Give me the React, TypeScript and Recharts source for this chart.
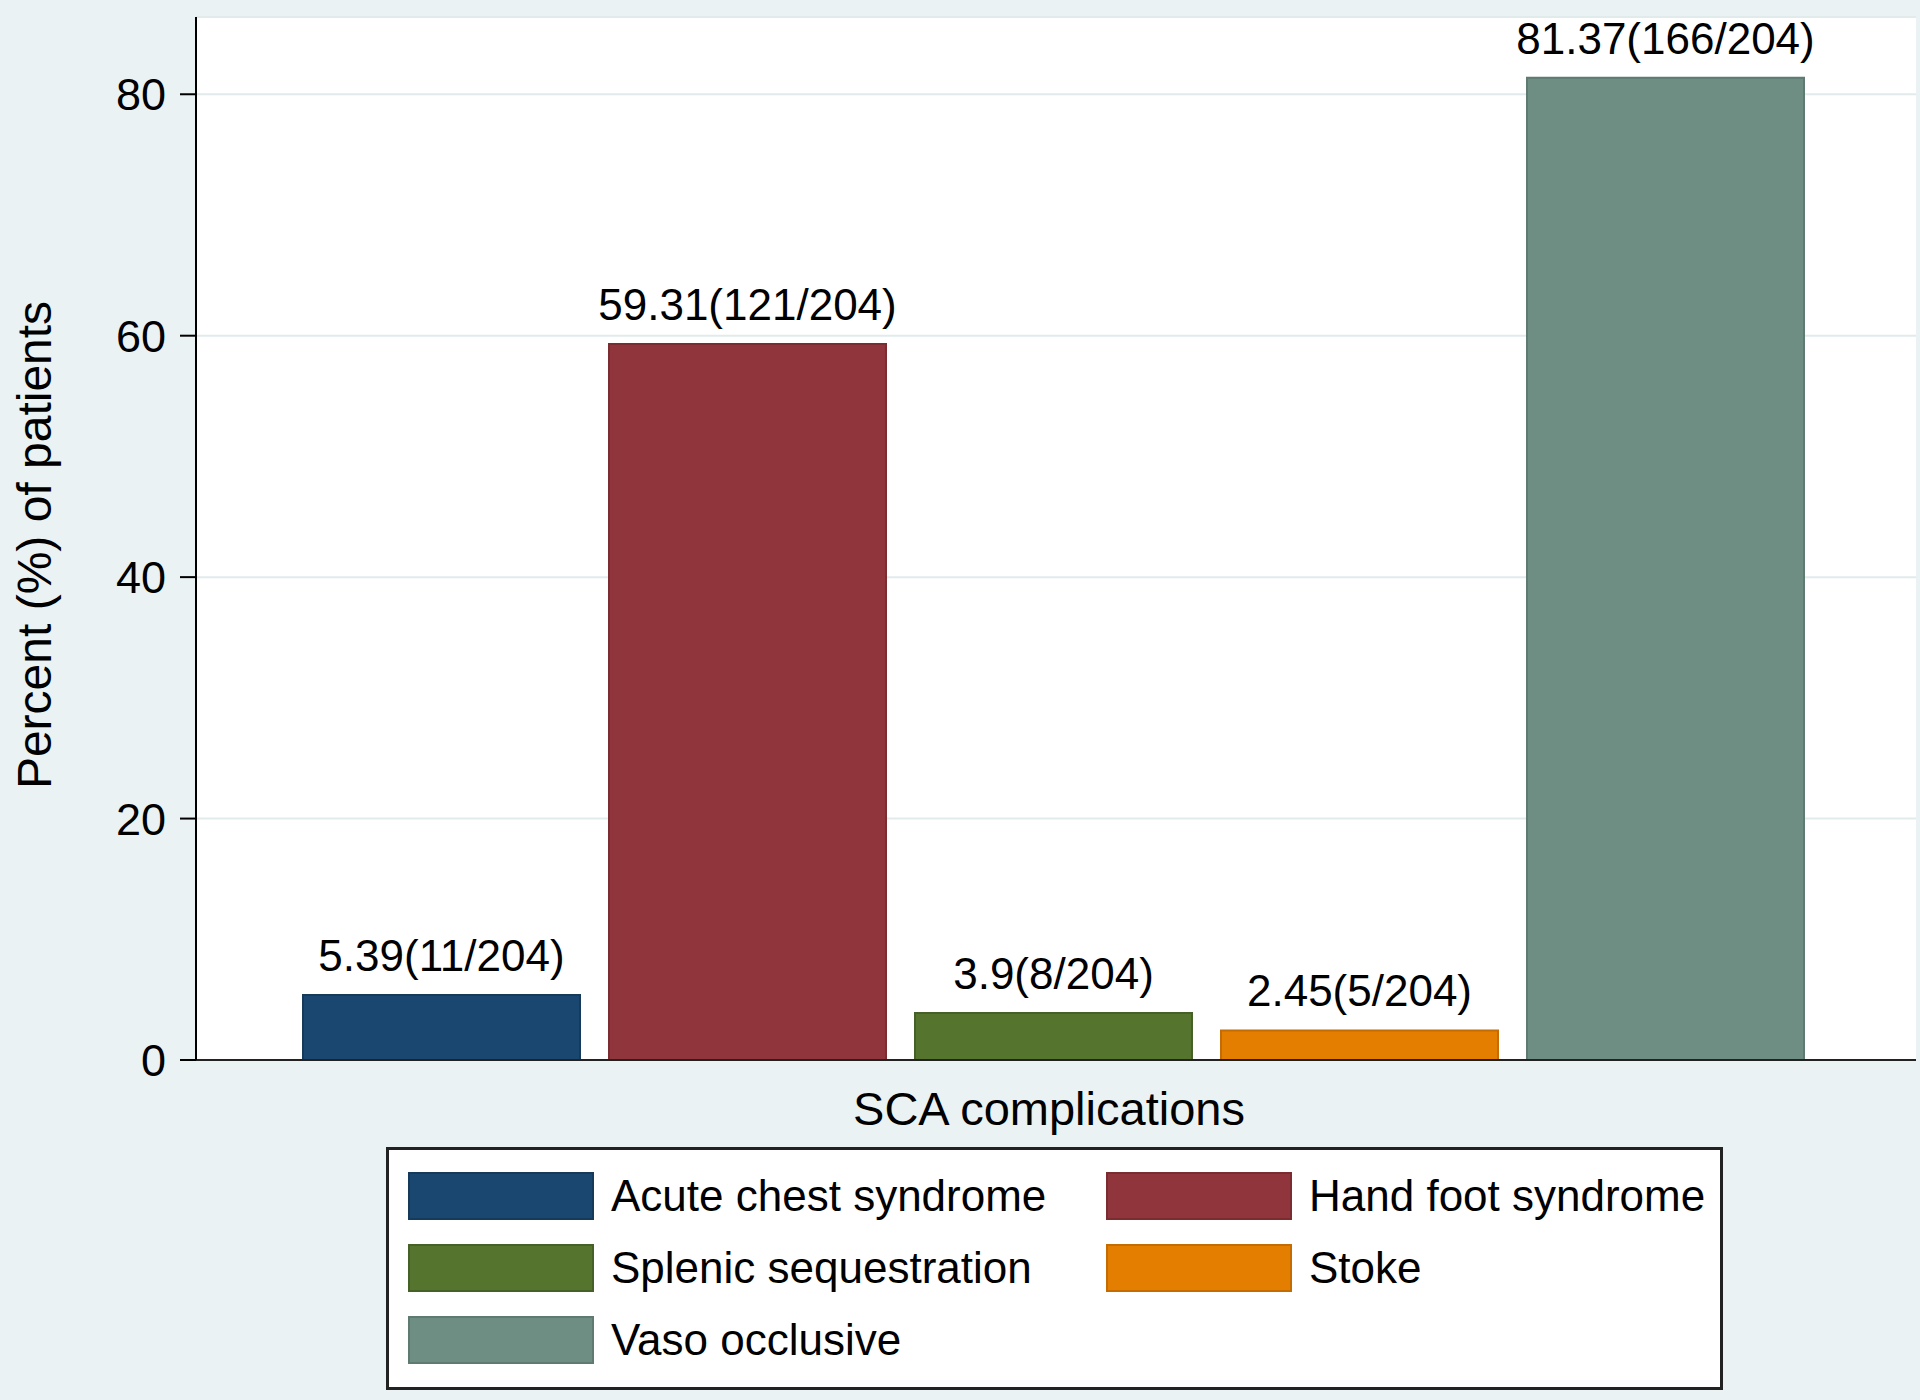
import React from "react";
import {
  BarChart,
  Bar,
  XAxis,
  YAxis,
  CartesianGrid,
  Legend,
  LabelList,
} from "recharts";

const complications = [
  "Acute chest syndrome",
  "Hand foot syndrome",
  "Splenic sequestration",
  "Stoke",
  "Vaso occlusive",
];
const percents = [5.39, 59.31, 3.9, 2.45, 81.37];
const counts = [11, 121, 8, 5, 166];
const total = 204;
const yTicks = [0, 20, 40, 60, 80];

const colors = ["#1a476f", "#90353b", "#55752f", "#e37e00", "#6e8e84"];
const outlines = ["#153a5a", "#7a2c31", "#466127", "#c46c00", "#5e7a71"];

const FONT = '"Liberation Sans", Arial, Helvetica, sans-serif';
const BG = "#eaf2f3";

// one row, one series per complication (Stata-style over() bars)
const row: Record<string, number | string> = { group: "" };
percents.forEach((v, i) => {
  row[`s${i}`] = v;
});
const data = [row];

function LegendBox() {
  return (
    <div
      style={{
        position: "relative",
        width: 1337,
        height: 243,
        boxSizing: "border-box",
        background: "#fff",
        border: "3px solid #222",
        fontFamily: FONT,
      }}
    >
      {complications.map((name, i) => {
        const col = i % 2;
        const r = Math.floor(i / 2);
        return (
          <div
            key={name}
            style={{
              position: "absolute",
              left: 19 + col * 698,
              top: 21 + r * 72,
              display: "flex",
              alignItems: "center",
              whiteSpace: "nowrap",
            }}
          >
            <div
              style={{
                width: 186,
                height: 48,
                boxSizing: "border-box",
                background: colors[i],
                border: `2px solid ${outlines[i]}`,
              }}
            />
            <span style={{ marginLeft: 17, fontSize: 44, color: "#000" }}>
              {name}
            </span>
          </div>
        );
      })}
    </div>
  );
}

export default function App() {
  return (
    <div style={{ width: 1920, height: 1400, background: BG }}>
      <style>{`body{margin:0}`}</style>
      <BarChart
        width={1920}
        height={1400}
        data={data}
        margin={{ top: 17, right: 4, bottom: 280, left: 0 }}
        barGap={29}
        barSize={277}
        style={{ fontFamily: FONT }}
      >
        <CartesianGrid
          vertical={false}
          fill="#ffffff"
          stroke="#e2ebec"
          strokeWidth={2}
        />
        <XAxis
          dataKey="group"
          height={60}
          padding={{ left: 0, right: 6 }}
          tick={false}
          tickLine={false}
          axisLine={{ stroke: "#222", strokeWidth: 2 }}
          label={{
            content: () => (
              <text
                x={1049}
                y={1125}
                textAnchor="middle"
                fontSize={47}
                fill="#000"
                fontFamily={FONT}
              >
                SCA complications
              </text>
            ),
          }}
        />
        <YAxis
          width={196}
          type="number"
          domain={[0, 86.4]}
          ticks={yTicks}
          allowDataOverflow
          tickSize={16}
          tickMargin={14}
          tickLine={{ stroke: "#000", strokeWidth: 2 }}
          axisLine={{ stroke: "#000", strokeWidth: 2 }}
          tick={{ fontSize: 45, fill: "#000", fontFamily: FONT }}
          label={{
            content: () => (
              <text
                x={34}
                y={545}
                transform="rotate(-90, 34, 545)"
                textAnchor="middle"
                dominantBaseline="central"
                fontSize={48}
                fill="#000"
                fontFamily={FONT}
              >
                Percent (%) of patients
              </text>
            ),
          }}
        />
        <Legend
          layout="horizontal"
          verticalAlign="middle"
          align="center"
          wrapperStyle={{ left: 386, top: 1147, width: 1337, height: 243 }}
          content={() => <LegendBox />}
        />
        {complications.map((name, i) => (
          <Bar
            key={name}
            dataKey={`s${i}`}
            name={name}
            fill={colors[i]}
            stroke={outlines[i]}
            strokeWidth={2}
            isAnimationActive={false}
          >
            <LabelList
              dataKey={`s${i}`}
              position="top"
              offset={24}
              fontSize={44}
              fill="#000"
              fontFamily={FONT}
              formatter={(v: number) => `${v}(${counts[i]}/${total})`}
            />
          </Bar>
        ))}
      </BarChart>
    </div>
  );
}
